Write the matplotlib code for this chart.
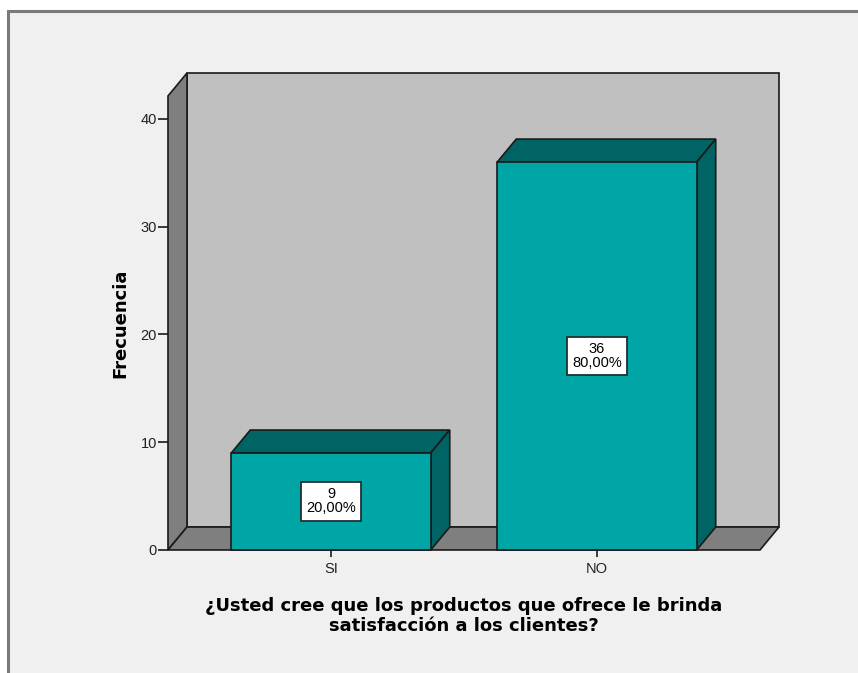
import matplotlib.pyplot as plt
from matplotlib.patches import Polygon, Rectangle

# frequency table
categorias = ['SI', 'NO']
frecuencias = [9, 36]
porcentajes = [20.00, 80.00]

x_pos = [0, 1]
ancho = 0.75
# depth of the 3D effect, in data units (x, y)
dx, dy = 0.0714, 2.13
ymax = 42.13

fondo = '#f0f0f0'
pared = '#c0c0c0'
lateral = '#7f7f7f'
frente = '#00a6a6'
oscuro = '#006464'
borde = '#1a1a1a'

fig = plt.figure(figsize=(8.58, 6.73), dpi=100, facecolor='white')
fig.patches.append(Rectangle((8 / 858, -0.1), 1.2, 1.1 - 11 / 673,
                             transform=fig.transFigure, facecolor=fondo,
                             edgecolor='#7a7a7a', linewidth=2.2, zorder=-10))

ax = fig.add_axes([0.1958, 0.1828, 0.6900, 0.6746])
ax.set_xlim(-0.613, 1.613)
ax.set_ylim(0, ymax)
ax.patch.set_visible(False)
for s in ax.spines.values():
    s.set_visible(False)

x0, x1 = ax.get_xlim()
kw = dict(edgecolor=borde, linewidth=1.2, clip_on=False, joinstyle='miter')

# back wall, left wall and floor
ax.add_patch(Polygon([(x0 + dx, dy), (x1 + dx, dy), (x1 + dx, ymax + dy), (x0 + dx, ymax + dy)],
                     facecolor=pared, zorder=1, **kw))
ax.add_patch(Polygon([(x0, 0), (x0 + dx, dy), (x0 + dx, ymax + dy), (x0, ymax)],
                     facecolor=lateral, zorder=2, **kw))
ax.add_patch(Polygon([(x0, 0), (x1, 0), (x1 + dx, dy), (x0 + dx, dy)],
                     facecolor=lateral, zorder=2, **kw))

# bars
for xc, v, p in zip(x_pos, frecuencias, porcentajes):
    a, b = xc - ancho / 2, xc + ancho / 2
    ax.add_patch(Polygon([(a, v), (b, v), (b + dx, v + dy), (a + dx, v + dy)],
                         facecolor=oscuro, zorder=3, **kw))
    ax.add_patch(Polygon([(b, 0), (b + dx, dy), (b + dx, v + dy), (b, v)],
                         facecolor=oscuro, zorder=3, **kw))
    ax.add_patch(Polygon([(a, 0), (b, 0), (b, v), (a, v)],
                         facecolor=frente, zorder=4, **kw))
    etiqueta = '%d\n%s%%' % (v, ('%.2f' % p).replace('.', ','))
    ax.text(xc, v / 2, etiqueta, ha='center', va='center', fontsize=10.5,
            family='Liberation Sans', linespacing=1.0, zorder=6,
            bbox=dict(boxstyle='square,pad=0.35', facecolor='white',
                      edgecolor='#203030', linewidth=1.3))

ax.set_yticks([0, 10, 20, 30, 40])
ax.set_xticks(x_pos)
ax.set_xticklabels(categorias)
ax.tick_params(axis='y', length=7, width=1.2, color=borde, pad=1,
               labelsize=10.5, labelcolor='#222222')
ax.tick_params(axis='x', length=5, width=1.2, color=borde, pad=4,
               labelsize=10.5, labelcolor='#222222')
for t in ax.get_xticklabels() + ax.get_yticklabels():
    t.set_family('Liberation Sans')

ax.set_ylabel('Frecuencia', fontsize=13, fontweight='bold', labelpad=8)
ax.set_xlabel('¿Usted cree que los productos que ofrece le brinda\nsatisfacción a los clientes?',
              fontsize=13, fontweight='bold', labelpad=15, linespacing=1.1)

fig.savefig('out.png', dpi=100, facecolor=fig.get_facecolor())
